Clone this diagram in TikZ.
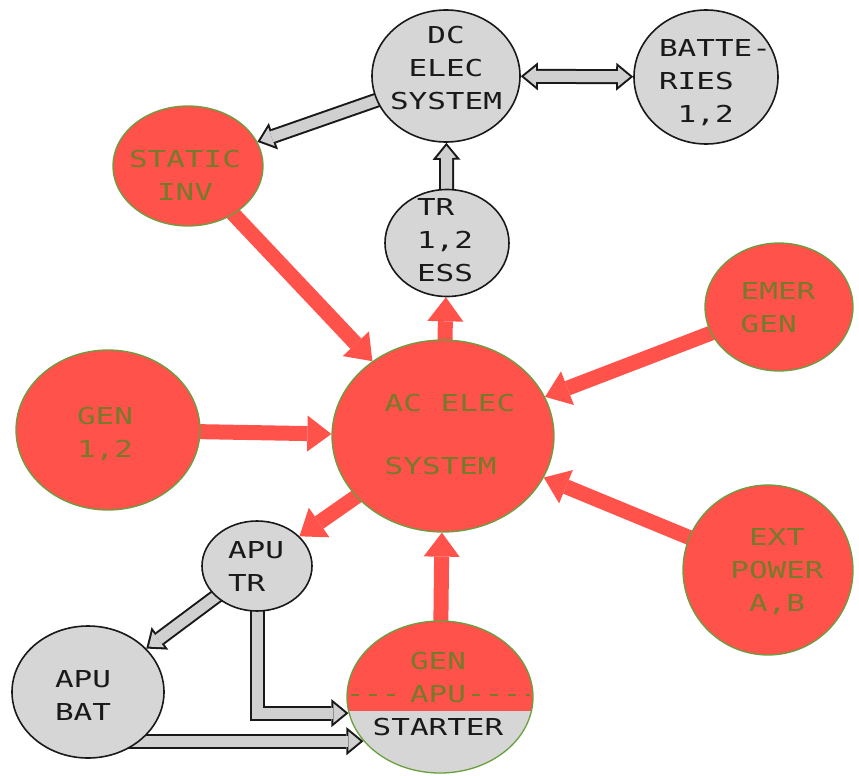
\documentclass[tikz,border=0pt]{standalone}
\usepackage{fontspec}
\newfontfamily\lcd{DejaVu Sans Mono}[FakeStretch=1.33]
\usetikzlibrary{shapes.geometric,arrows.meta}
\definecolor{redfill}{RGB}{255,82,74}
\definecolor{greenline}{RGB}{104,160,64}
\definecolor{olivetext}{RGB}{118,122,42}
\definecolor{grayfill}{RGB}{214,214,214}
\definecolor{arrowgray}{RGB}{208,208,208}
\definecolor{inkline}{RGB}{25,25,25}
\pgfdeclarelayer{bg}
\pgfsetlayers{bg,main}
\tikzset{
  rednode/.style={ellipse, inner sep=0pt, fill=redfill, draw=greenline, line width=1.3pt},
  graynode/.style={ellipse, inner sep=0pt, fill=grayfill, draw=inkline, line width=1.6pt},
  lbl/.style={font=\lcd\fontsize{23.3}{33}\selectfont, align=center, inner sep=0pt, text depth=0pt},
  redlbl/.style={lbl, text=olivetext},
  graylbl/.style={lbl, text=inkline},
  redarrow/.style={draw=redfill, line width=15pt, -{Triangle[length=24pt,width=36pt,line width=0pt]}},
  hollowout/.style={draw=inkline, line width=15pt, line join=miter, -{Triangle[length=17pt,width=28pt,line width=0pt]}},
  hollowin/.style={draw=arrowgray, line width=11pt, line join=miter, shorten >=3.2pt, -{Triangle[length=11.8pt,width=19.4pt,line width=0pt]}},
  hollowoutb/.style={draw=inkline, line width=15pt, {Triangle[length=17pt,width=28pt,line width=0pt]}-{Triangle[length=17pt,width=28pt,line width=0pt]}},
  hollowinb/.style={draw=arrowgray, line width=11pt, shorten >=3.2pt, shorten <=3.2pt, {Triangle[length=11.8pt,width=19.4pt,line width=0pt]}-{Triangle[length=11.8pt,width=19.4pt,line width=0pt]}},
  dashsep/.style={draw=olivetext, line width=2pt, dash pattern=on 8pt off 10pt},
}
\begin{document}
\begin{tikzpicture}[x=1pt,y=-1pt]
\useasboundingbox (0,0) rectangle (859,776);
% nodes
\node[graynode, minimum width=148pt, minimum height=132pt] (dc) at (446,76) {};
\node[graynode, minimum width=144pt, minimum height=134pt] (bat) at (706,77) {};
\node[rednode, minimum width=150pt, minimum height=120pt] (static) at (188,166) {};
\node[graynode, minimum width=124pt, minimum height=107pt] (tr) at (447,243) {};
\node[rednode, minimum width=148pt, minimum height=128pt] (emer) at (779,307) {};
\node[rednode, minimum width=184pt, minimum height=160pt] (gen) at (108,430) {};
\node[rednode, minimum width=222pt, minimum height=192pt] (ac) at (443,436) {};
\node[rednode, minimum width=170pt, minimum height=170pt] (ext) at (768,570) {};
\node[graynode, minimum width=110pt, minimum height=90pt] (aputr) at (257,566) {};
\node[graynode, minimum width=152pt, minimum height=132pt] (apubat) at (88,692) {};
\node[ellipse, inner sep=0pt, minimum width=186pt, minimum height=152pt, fill=grayfill,
      draw=greenline, line width=1.3pt,
      path picture={\fill[redfill] ([yshift=10pt]path picture bounding box.north west) rectangle ([yshift=-14pt]path picture bounding box.east);}]
      (starter) at (440,697) {};
% labels
\node[graylbl] (dct) at (446,68) {DC\\ELEC\\SYSTEM};
\node[graylbl, align=left] (batt) at (715,81) {BATTE-\\RIES\\~1,2};
\node[redlbl] (statict) at (185,175) {STATIC\\INV};
\node[graylbl, align=left] (trt) at (445,240) {TR\\1,2\\ESS};
\node[redlbl, align=left] (emert) at (778,308) {EMER\\GEN};
\node[redlbl, align=left] (gent) at (105,432) {GEN\\1,2};
\node[redlbl, align=left] (act) at (450,434) {AC ELEC\\[30pt]SYSTEM};
\node[redlbl] (extt) at (777,570) {EXT\\POWER\\A,B};
\node[graylbl, align=left] (aputrt) at (256,566) {APU\\TR};
\node[graylbl, align=left] (apubatt) at (83,695) {APU\\BAT};
\node[lbl] (startert) at (438,694) {\textcolor{olivetext}{GEN}\\\textcolor{olivetext}{APU}\\\textcolor{inkline}{STARTER}};
\draw[dashsep] (351,695) -- (405,695);
\draw[dashsep] (472,695) -- (530,695);
% connectors
\begin{pgfonlayer}{bg}
\fill[white] (0,0) rectangle (859,776);
\draw[redarrow] (static.center) -- (ac);
\draw[redarrow] (gen.center) -- (ac);
\draw[redarrow] (emer.center) -- (ac);
\draw[redarrow] (ext.center) -- (ac);
\draw[redarrow] (ac.center) -- (tr);
\draw[redarrow] (ac.center) -- (aputr);
\draw[redarrow] (starter.center) -- (ac);
\draw[hollowout] (dc.center) -- (static);
\draw[hollowin] (dc.center) -- (static);
\draw[hollowoutb] (dc) -- (bat);
\draw[hollowinb] (dc) -- (bat);
\draw[hollowout] (tr.center) -- (dc);
\draw[hollowin] (tr.center) -- (dc);
\draw[hollowout] (aputr.center) -- (apubat);
\draw[hollowin] (aputr.center) -- (apubat);
\draw[hollowout] (aputr.center) |- (starter.190);
\draw[hollowin] (aputr.center) |- (starter.190);
\draw[hollowout] (apubat.center |- starter.210) -- (starter.210);
\draw[hollowin] (apubat.center |- starter.210) -- (starter.210);
\end{pgfonlayer}
\end{tikzpicture}
\end{document}
